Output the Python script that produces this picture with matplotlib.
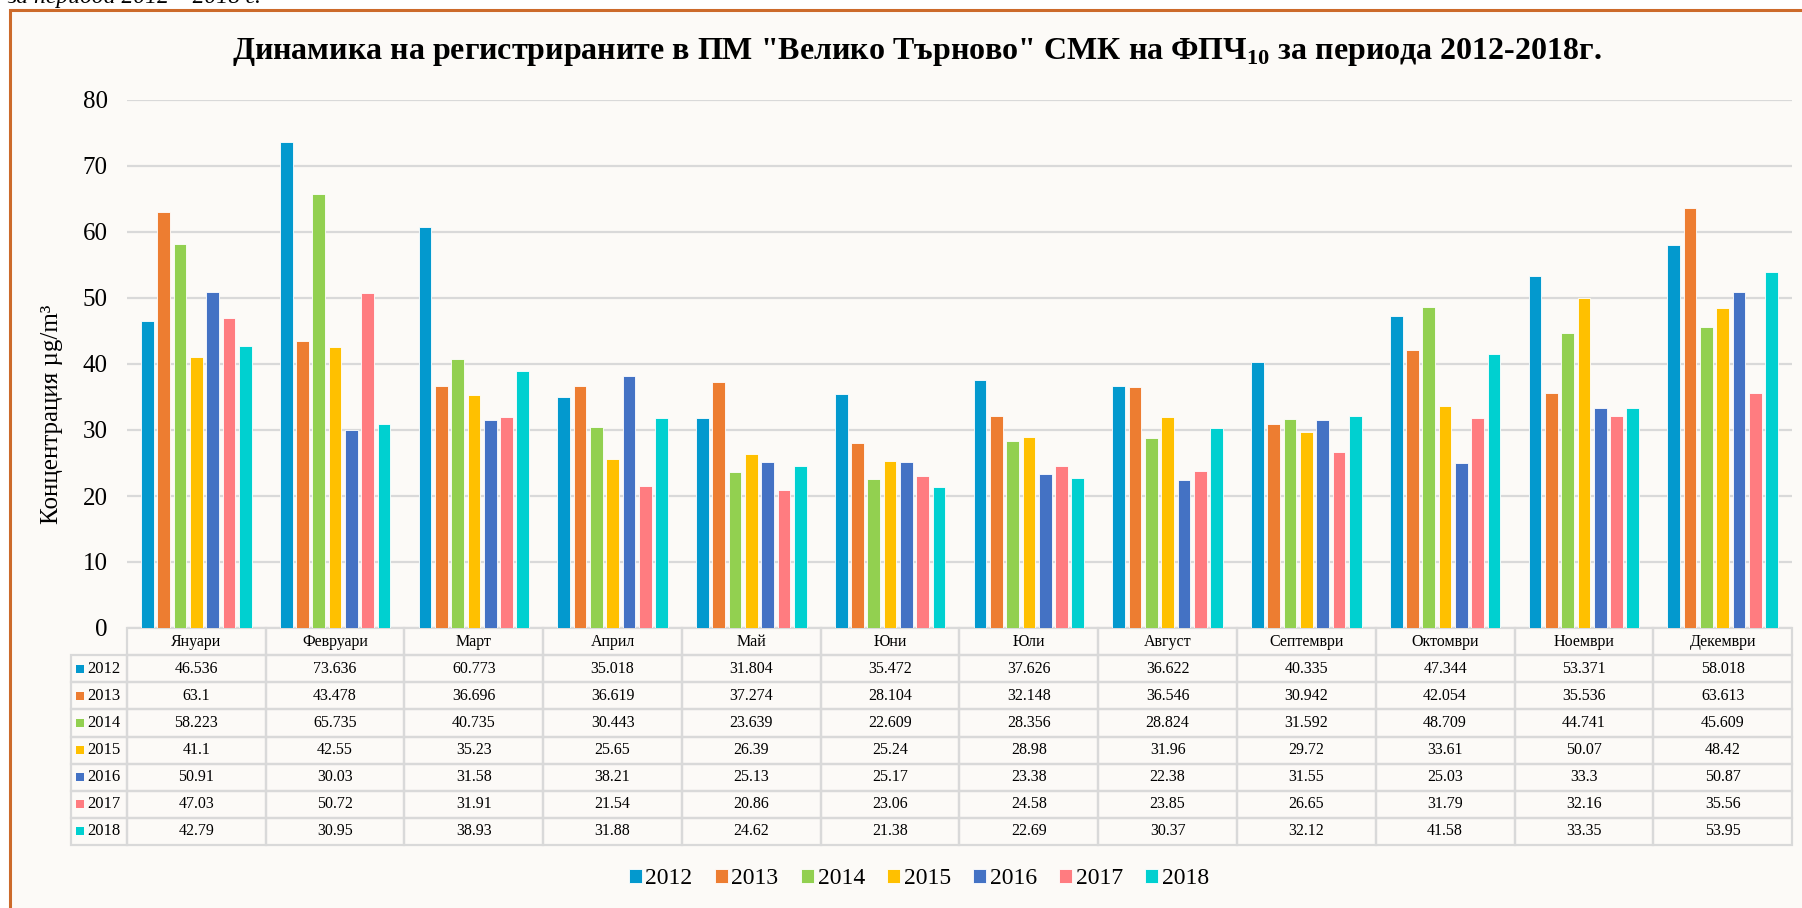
import numpy as np
import matplotlib.pyplot as plt
from matplotlib.patches import Rectangle

months = ['Януари', 'Февруари', 'Март', 'Април', 'Май', 'Юни', 'Юли',
          'Август', 'Септември', 'Октомври', 'Ноември', 'Декември']
years = ['2012', '2013', '2014', '2015', '2016', '2017', '2018']

v2012 = [46.536, 73.636, 60.773, 35.018, 31.804, 35.472, 37.626, 36.622, 40.335, 47.344, 53.371, 58.018]
v2013 = [63.1, 43.478, 36.696, 36.619, 37.274, 28.104, 32.148, 36.546, 30.942, 42.054, 35.536, 63.613]
v2014 = [58.223, 65.735, 40.735, 30.443, 23.639, 22.609, 28.356, 28.824, 31.592, 48.709, 44.741, 45.609]
v2015 = [41.1, 42.55, 35.23, 25.65, 26.39, 25.24, 28.98, 31.96, 29.72, 33.61, 50.07, 48.42]
v2016 = [50.91, 30.03, 31.58, 38.21, 25.13, 25.17, 23.38, 22.38, 31.55, 25.03, 33.3, 50.87]
v2017 = [47.03, 50.72, 31.91, 21.54, 20.86, 23.06, 24.58, 23.85, 26.65, 31.79, 32.16, 35.56]
v2018 = [42.79, 30.95, 38.93, 31.88, 24.62, 21.38, 22.69, 30.37, 32.12, 41.58, 33.35, 53.95]
values = [v2012, v2013, v2014, v2015, v2016, v2017, v2018]

colors = ['#0399CE', '#ED7D31', '#92D050', '#FFC000', '#4472C4', '#FF7C80', '#00D0D0']

plt.rcParams['font.family'] = ['Liberation Serif', 'DejaVu Serif']
plt.rcParams['mathtext.fontset'] = 'custom'
plt.rcParams['mathtext.rm'] = 'Liberation Serif'
plt.rcParams['mathtext.bf'] = 'Liberation Serif:bold'

W, H = 1802, 908
fig = plt.figure(figsize=(W / 100, H / 100), dpi=100)
fig.patch.set_facecolor('white')

# chart frame (right and bottom edges fall outside the picture)
frame = Rectangle((10 / W, -0.2), 1.2, 1 - 10 / H + 0.2, transform=fig.transFigure,
                  facecolor='#FCFAF7', edgecolor='#CC6A2A', linewidth=2.2, zorder=-5)
fig.add_artist(frame)

# clipped caption line above the frame (only its lower edge shows, as in the source page)
fig.text(0.004, 1 - 3 / H, 'за периода 2012 – 2018 г.', style='italic', fontsize=17,
         va='baseline', ha='left')

# plot area
left_px, right_px, top_px, bot_px = 127, 1792, 100, 628
ax = fig.add_axes([left_px / W, 1 - bot_px / H, (right_px - left_px) / W, (bot_px - top_px) / H])
ax.set_facecolor('none')

x = np.arange(len(months))
pitch = 0.1175
bw = 0.0915
for i, (yr, vals, c) in enumerate(zip(years, values, colors)):
    ax.bar(x + (i - 3) * pitch, vals, bw, color=c, label=yr, zorder=3,
           edgecolor='white', linewidth=0.6)

ax.set_xlim(-0.5, len(months) - 0.5)
ax.set_ylim(0, 80)
ax.set_yticks(range(0, 81, 10))
ax.set_xticks([])
ax.yaxis.grid(True, color='#D9D9D9', linewidth=1.6, zorder=0)
ax.set_axisbelow(True)
for s in ax.spines.values():
    s.set_visible(False)
ax.tick_params(axis='y', length=0, labelsize=18, pad=14)

fig.text(52 / W, 1 - 414 / H, 'Концентрация µg/m³', rotation=90, fontsize=18,
         ha='center', va='center')

# data table under the bars
ax_w = right_px - left_px
ax_h = bot_px - top_px
x0 = (left_px - 71) / ax_w
tab_h = (845 - bot_px) / ax_h
cell_text = [[''] + months] + [[''] + [f'{v:g}' for v in vals] for vals in values]
tbl = ax.table(cellText=cell_text, colWidths=[x0] + [1 / 12] * 12,
               bbox=[-x0, -tab_h, 1 + x0, tab_h], cellLoc='center')
tbl.auto_set_font_size(False)
tbl.set_fontsize(11.5)
for (r, c), cell in tbl.get_celld().items():
    cell.set_edgecolor('#D9D9D9')
    cell.set_linewidth(1.6)
    cell.set_facecolor('none')
tbl[0, 0].visible_edges = 'open'

row_h = tab_h / 8
for i, (yr, c) in enumerate(zip(years, colors)):
    yc = -(i + 1.5) * row_h
    sq = 8
    ax.add_patch(Rectangle((-x0 + 5 / ax_w, yc - sq / 2 / ax_h), sq / ax_w, sq / ax_h,
                           transform=ax.transAxes, facecolor=c, edgecolor='none',
                           clip_on=False))
    ax.text(-x0 + 16 / ax_w, yc, yr, transform=ax.transAxes, fontsize=12,
            ha='left', va='center')

# title
fig.text(917 / W, 1 - 52 / H,
         'Динамика на регистрираните в ПМ "Велико Търново" СМК на ФПЧ$_{\\mathbf{10}}$ за периода 2012-2018г.',
         fontsize=23, fontweight='bold', ha='center', va='center')

# legend
handles, labels = ax.get_legend_handles_labels()
fig.legend(handles, labels, loc='center', bbox_to_anchor=(919 / W, 1 - 879 / H), ncol=7,
           frameon=False, fontsize=17, handlelength=0.55, handleheight=0.55,
           handletextpad=0.15, columnspacing=0.95)

fig.savefig('out.png', dpi=100)
